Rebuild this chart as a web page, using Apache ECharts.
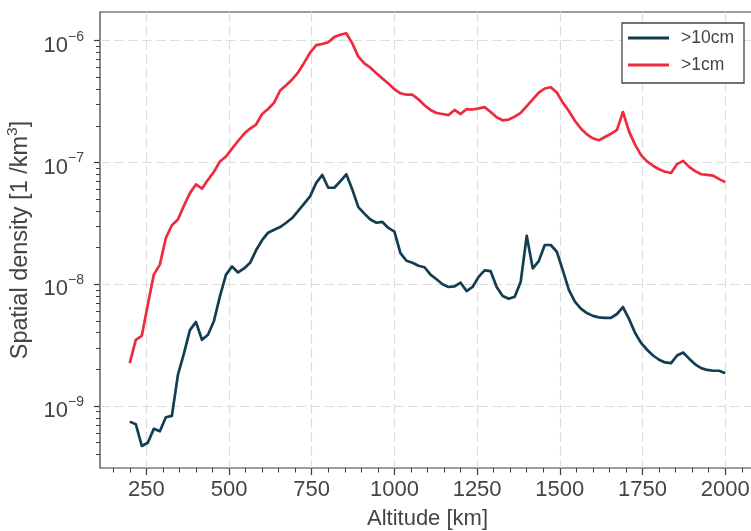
<!DOCTYPE html>
<html><head><meta charset="utf-8">
<script src="https://cdn.jsdelivr.net/npm/echarts@6/dist/echarts.min.js"></script>
<style>html,body{margin:0;padding:0;background:#fff}#c{width:751px;height:531px}</style>
</head><body><div id="c"></div>
<script>
const altitudes = [200,218.2,236.4,254.5,272.7,290.9,309.1,327.3,345.5,363.6,381.8,400,418.2,436.4,454.5,472.7,490.9,509.1,527.3,545.5,563.6,581.8,600,618.2,636.4,654.5,672.7,690.9,709.1,727.3,745.5,763.6,781.8,800,818.2,836.4,854.5,872.7,890.9,909.1,927.3,945.5,963.6,981.8,1000,1018.2,1036.4,1054.5,1072.7,1090.9,1109.1,1127.3,1145.5,1163.6,1181.8,1200,1218.2,1236.4,1254.5,1272.7,1290.9,1309.1,1327.3,1345.5,1363.6,1381.8,1400,1418.2,1436.4,1454.5,1472.7,1490.9,1509.1,1527.3,1545.5,1563.6,1581.8,1600,1618.2,1636.4,1654.5,1672.7,1690.9,1709.1,1727.3,1745.5,1763.6,1781.8,1800,1818.2,1836.4,1854.5,1872.7,1890.9,1909.1,1927.3,1945.5,1963.6,1981.8,2000];
const density10cm = [7.45e-10,7.1e-10,4.7e-10,5.0e-10,6.5e-10,6.2e-10,8.1e-10,8.3e-10,1.8e-9,2.7e-9,4.2e-9,4.9e-9,3.5e-9,3.85e-9,5.0e-9,8.0e-9,1.2e-8,1.4e-8,1.25e-8,1.35e-8,1.5e-8,1.9e-8,2.3e-8,2.65e-8,2.8e-8,2.95e-8,3.2e-8,3.5e-8,4.0e-8,4.6e-8,5.3e-8,6.8e-8,7.9e-8,6.2e-8,6.2e-8,7.0e-8,8.0e-8,6.0e-8,4.3e-8,3.8e-8,3.4e-8,3.2e-8,3.25e-8,2.9e-8,2.7e-8,1.8e-8,1.56e-8,1.5e-8,1.42e-8,1.38e-8,1.2e-8,1.1e-8,1.0e-8,9.5e-9,9.6e-9,1.03e-8,8.8e-9,9.5e-9,1.15e-8,1.3e-8,1.28e-8,9.5e-9,8.0e-9,7.6e-9,7.9e-9,1.05e-8,2.5e-8,1.35e-8,1.55e-8,2.1e-8,2.1e-8,1.85e-8,1.3e-8,9.0e-9,7.2e-9,6.3e-9,5.8e-9,5.5e-9,5.35e-9,5.3e-9,5.3e-9,5.7e-9,6.5e-9,5.2e-9,4.0e-9,3.3e-9,2.9e-9,2.6e-9,2.4e-9,2.28e-9,2.25e-9,2.6e-9,2.75e-9,2.45e-9,2.2e-9,2.05e-9,1.98e-9,1.95e-9,1.95e-9,1.86e-9];
const density1cm = [2.25e-9,3.5e-9,3.77e-9,6.8e-9,1.2e-8,1.45e-8,2.4e-8,3.05e-8,3.4e-8,4.4e-8,5.6e-8,6.6e-8,6.1e-8,7.2e-8,8.4e-8,1.02e-7,1.12e-7,1.3e-7,1.5e-7,1.72e-7,1.9e-7,2.05e-7,2.5e-7,2.75e-7,3.1e-7,3.9e-7,4.3e-7,4.8e-7,5.5e-7,6.6e-7,8.0e-7,9.2e-7,9.4e-7,9.7e-7,1.07e-6,1.12e-6,1.15e-6,9.5e-7,7.4e-7,6.5e-7,6.0e-7,5.4e-7,4.9e-7,4.45e-7,4.0e-7,3.7e-7,3.6e-7,3.6e-7,3.3e-7,2.95e-7,2.7e-7,2.55e-7,2.5e-7,2.45e-7,2.7e-7,2.5e-7,2.74e-7,2.72e-7,2.78e-7,2.85e-7,2.6e-7,2.35e-7,2.22e-7,2.25e-7,2.38e-7,2.55e-7,2.9e-7,3.3e-7,3.75e-7,4.05e-7,4.15e-7,3.75e-7,3.1e-7,2.65e-7,2.2e-7,1.9e-7,1.7e-7,1.58e-7,1.52e-7,1.62e-7,1.72e-7,1.85e-7,2.6e-7,1.8e-7,1.4e-7,1.15e-7,1.02e-7,9.4e-8,8.8e-8,8.4e-8,8.2e-8,9.7e-8,1.03e-7,9.2e-8,8.5e-8,8.0e-8,7.9e-8,7.8e-8,7.3e-8,6.9e-8];
const seriesNames = ['>10cm', '>1cm'];
const xMajorTicks = [250,500,750,1000,1250,1500,1750,2000];
const xMinorTicks = [150,200,300,350,400,450,550,600,650,700,800,850,900,950,1050,1100,1150,1200,1300,1350,1400,1450,1550,1600,1650,1700,1800,1850,1900,1950,2050];
const yMajorTicks = [1e-9,1e-8,1e-7,1e-6];
const yMinorTicks = [4e-10,5e-10,6e-10,7e-10,8e-10,9e-10,2e-9,3e-9,4e-9,5e-9,6e-9,7e-9,8e-9,9e-9,2e-8,3e-8,4e-8,5e-8,6e-8,7e-8,8e-8,9e-8,2e-7,3e-7,4e-7,5e-7,6e-7,7e-7,8e-7,9e-7];

const FONT = '"Liberation Sans", Arial, sans-serif';
const TXT = '#444';
const AX = '#3a3a3a';
const grid = {color:'#dedede', width:1.2, type:[10,4]};

const chart = echarts.init(document.getElementById('c'), null, {renderer:'canvas'});
const pairs = arr => arr.map((v,i) => [altitudes[i], v]);
chart.setOption({
  animation:false,
  backgroundColor:'#fff',
  textStyle:{fontFamily:FONT},
  grid:{left:100, top:12, right:-4, bottom:63, show:true, borderColor:AX, borderWidth:1.2, backgroundColor:'transparent', outerBoundsMode:'none', containLabel:false},
  legend:{
    data:seriesNames, orient:'vertical', left:622, top:23,
    padding:[6,10,9,6], itemGap:9, itemWidth:41, itemHeight:3, icon:'rect',
    borderColor:'#444', borderWidth:1.3, backgroundColor:'#fff', borderRadius:0,
    textStyle:{fontFamily:FONT, fontSize:17.5, color:TXT, lineHeight:18, padding:[0,0,0,7]}
  },
  xAxis:[{
    type:'value', min:110, max:2090,
    name:'Altitude [km]', nameLocation:'middle', nameGap:40,
    nameTextStyle:{fontFamily:FONT, fontSize:22, color:TXT},
    axisLine:{show:false},
    axisTick:{show:true, customValues:xMajorTicks, length:7, lineStyle:{color:AX, width:1.2}},
    axisLabel:{customValues:xMajorTicks, margin:11, fontFamily:FONT, fontSize:22, color:TXT,
      formatter: v => String(v)},
    splitLine:{show:true, lineStyle:grid}
  },{
    type:'value', min:110, max:2090, position:'bottom',
    axisLine:{show:false}, axisLabel:{show:false}, splitLine:{show:false},
    axisTick:{show:true, customValues:xMinorTicks, length:4.5, lineStyle:{color:AX, width:1}}
  }],
  yAxis:[{
    type:'log', logBase:10, min:3.1e-10, max:1.72e-6,
    name:'{a|Spatial density [1 /km}{s|3}{a|]}', nameLocation:'middle', nameGap:65,
    nameTextStyle:{fontFamily:FONT, color:TXT, rich:{
      a:{fontFamily:FONT, fontSize:23.5, color:TXT, lineHeight:26, padding:[6,0,0,0]},
      s:{fontFamily:FONT, fontSize:15.5, color:TXT, lineHeight:15, verticalAlign:'top'}
    }},
    axisLine:{show:false},
    axisTick:{show:true, customValues:yMajorTicks, length:6, lineStyle:{color:AX, width:1.2}},
    axisLabel:{customValues:yMajorTicks, margin:16,
      formatter: v => '{b|10}{s|\u2212' + Math.round(-Math.log10(v)) + '}',
      rich:{
        b:{fontFamily:FONT, fontSize:22, color:TXT, lineHeight:22, padding:[10,0,0,0]},
        s:{fontFamily:FONT, fontSize:14, color:TXT, lineHeight:14, verticalAlign:'top'}
      }},
    splitLine:{show:true, lineStyle:grid}
  },{
    type:'log', logBase:10, min:3.1e-10, max:1.72e-6, position:'left',
    axisLine:{show:false}, axisLabel:{show:false}, splitLine:{show:false},
    axisTick:{show:true, customValues:yMinorTicks, length:4, lineStyle:{color:AX, width:1}}
  }],
  series:[
    {name:seriesNames[0], type:'line', data:pairs(density10cm), symbol:'none', color:'#133d52',
     lineStyle:{color:'#133d52', width:2.7, join:'round'}, z:3},
    {name:seriesNames[1], type:'line', data:pairs(density1cm), symbol:'none', color:'#ef2a3f',
     lineStyle:{color:'#ef2a3f', width:2.7, join:'round'}, z:4}
  ]
});
</script></body></html>
